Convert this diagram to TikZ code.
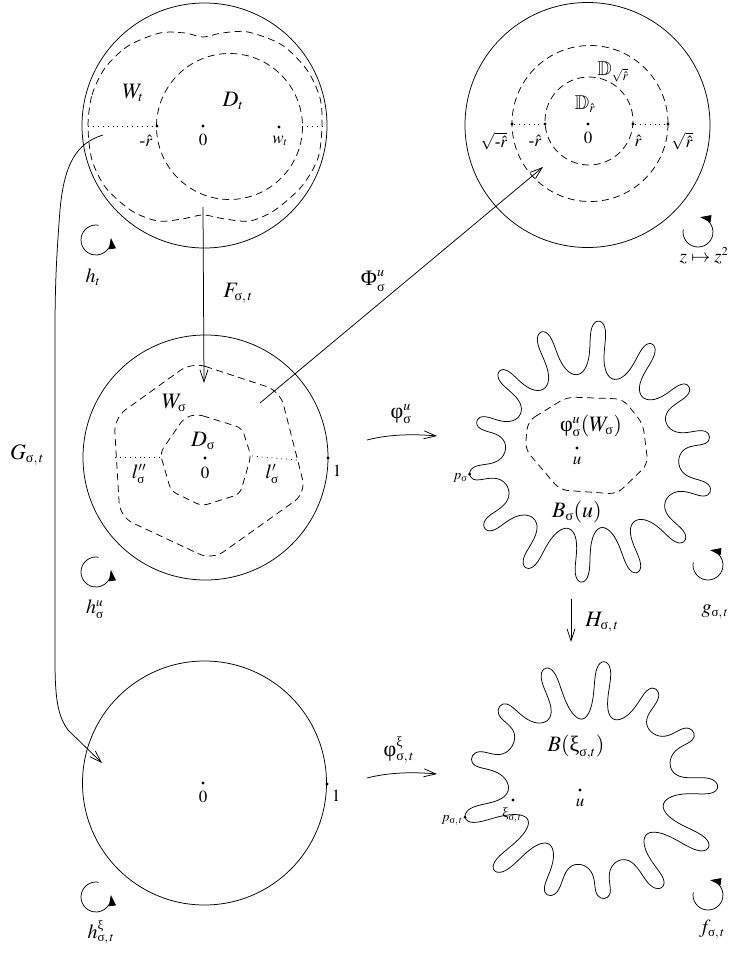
\documentclass[tikz,border=0pt]{standalone}
\usepackage{amsmath,amssymb}
\usepackage{mathptmx}
\usepackage{fontspec}
\setmainfont{Liberation Serif}
\usetikzlibrary{arrows.meta,calc}
\DeclareMathSizes{22}{22}{14}{11}
\DeclareMathSizes{21}{21}{13}{10}
\DeclareMathSizes{20}{20}{13}{10}
\DeclareMathSizes{19}{19}{12}{9}
\DeclareMathSizes{17}{17}{11}{9}
\DeclareMathSizes{14}{14}{10}{8}
\newcommand{\gs}{\text{σ}}
\newcommand{\gxi}{\text{ξ}}
\newcommand{\gphi}{\text{φ}}
\newcommand{\gPhi}{\text{Φ}}
\begin{document}
\begin{tikzpicture}[x=1pt,y=-1pt,line width=0.75pt,
  font=\fontsize{17}{20}\selectfont,
  dsh/.style={dash pattern=on 7pt off 4.5pt},
  dtd/.style={dash pattern=on 0.9pt off 4pt},
  dotn/.style={circle,fill,inner sep=0pt,minimum size=3.2pt},
  lbl/.style={inner sep=0pt},
  biglbl/.style={inner sep=0pt,font=\fontsize{22}{26}\selectfont},
  midlbl/.style={inner sep=0pt,font=\fontsize{20}{24}\selectfont},
  smalllbl/.style={inner sep=0pt,font=\fontsize{14}{16}\selectfont},
  barb/.style={-{Straight Barb[length=12pt,width=8pt]}},
  rot/.style={-{Triangle[length=11pt,width=7pt]}},
  declare function={
    rA(\t)=104+22*(1+0.22*sin(2*\t-90))*sin(14*\t-144)+4*sin(3*\t+20);
    aA(\t)=\t-1.7*sin(2*(14*\t-144))+2.5*cos(14*\t-144);
    rB(\t)=100+23*(1+0.3*sin(3*\t+10))*sin(13*\t+92)+4*sin(2*\t+60);
    aB(\t)=\t-1.8*sin(2*(13*\t+92))+2.5*cos(13*\t+92);
  }]
\useasboundingbox (0,0) rectangle (731,954);

% ---------- centres ----------
\coordinate (c1) at (204.5,125.5);
\coordinate (c2) at (587.5,125);
\coordinate (c3) at (205.5,457.5);
\coordinate (c5) at (204.5,783);

% ---------- top-left disc ----------
\draw (c1) circle[radius=122.5];
\draw[dsh] plot[smooth cycle] coordinates {(88,126) (92,95) (105,68) (128,46) (160,33) (185,33) (203,37) (222,33) (248,32) (282,45) (307,70) (320,98) (322,126) (318,158) (302,186) (275,210) (250,221) (225,219) (203,215) (182,219) (158,221) (132,211) (106,188) (92,160)};
\draw[dsh] (229.5,126.5) circle[radius=73];
\node[dotn] (mr1) at (157,126) {};
\node[dotn] (o1) at (203,126) {};
\node[dotn] (w1) at (279,127) {};
\coordinate (l1a) at (88,126);
\coordinate (l1b) at (302,126);
\coordinate (l1c) at (322,126);
\draw[dtd] (l1a) -- (mr1);
\draw[dtd] (l1b) -- (l1c);
\node[biglbl] (Wt) at (133,93) {$W_t$};
\node[biglbl] (Dt) at (233,101) {$D_t$};
\node[lbl] (tmr) at (146,141) {$\text{-}\hat r$};
\node[lbl] (t0a) at (203,140) {$0$};
\node[lbl] (twt) at (280,141) {$w_t$};

% ---------- top-right disc ----------
\draw (c2) circle[radius=122.5];
\draw[dsh] (590,123.5) circle[radius=78];
\draw[dsh] (589,121) circle[radius=44];
\node[dotn] (q1) at (512,124) {};
\node[dotn] (q2) at (545,124) {};
\node[dotn] (o2) at (588,124) {};
\node[dotn] (q3) at (633,124) {};
\node[dotn] (q4) at (668,124) {};
\draw[dtd] (q1) -- (q2);
\draw[dtd] (q3) -- (q4);
\node[lbl] (s1) at (494,141) {$\sqrt{\text{-}\hat r}$};
\node[lbl] (s2) at (535,141) {$\text{-}\hat r$};
\node[lbl] (s0) at (588,138) {$0$};
\node[lbl] (s3) at (638,141) {$\hat r$};
\node[lbl] (s4) at (682,141) {$\sqrt{\hat r}$};
\node[midlbl] (DD1) at (613,72) {$\mathbb{D}_{\sqrt{\hat r}}$};
\node[midlbl] (DD2) at (585,104) {$\mathbb{D}_{\hat r}$};

% ---------- middle-left disc ----------
\draw (c3) circle[radius=122.5];
\draw[dsh,rounded corners=14pt] (192,362) -- (280,391) -- (306,493) -- (212,560) -- (120,517) -- (114,418) -- cycle;
\draw[dsh,rounded corners=6pt] (197,414) -- (242,428) -- (251,456) -- (240,494) -- (202,506) -- (171,491) -- (160,453) -- (184,418) -- cycle;
\node[dotn] (o3) at (205,458) {};
\node[dotn] (one3) at (328,458) {};
\coordinate (d3a) at (115,457);
\coordinate (d3b) at (160,457);
\coordinate (d3c) at (252,456);
\coordinate (d3d) at (297,460);
\draw[dtd] (d3a) -- (d3b);
\draw[dtd] (d3c) -- (d3d);
\node[biglbl] (Ws) at (174,403) {$W_{\gs}$};
\node[biglbl] (Ds) at (203,441) {$D_{\gs}$};
\node[lbl] (t0c) at (205,473) {$0$};
\node[midlbl] (lpp) at (139,474) {$l''_{\gs}$};
\node[midlbl] (lp) at (272,474) {$l'_{\gs}$};
\node[lbl] (t1c) at (337,471) {$1$};

% ---------- bottom-left disc ----------
\draw (c5) circle[radius=122];
\node[dotn] (o5) at (203,783) {};
\node[dotn] (one5) at (327,784) {};
\node[lbl] (t0e) at (203,797) {$0$};
\node[lbl] (t1e) at (336,796) {$1$};

% ---------- blob A ----------
\draw plot[smooth cycle,variable=\t,domain=0:358.6,samples=252]
  ({590+rA(\t)*cos(aA(\t))},{455+rA(\t)*sin(aA(\t))});
\draw[dsh,rounded corners=8pt] (528,421) -- (567,397) -- (623,399) -- (643,424) -- (648,464) -- (617,494) -- (560,490) -- (525,449) -- cycle;
\node[dotn] (pS) at ({590+rA(171)*cos(aA(171))},{455+rA(171)*sin(aA(171))}) {};
\node[dotn] (uA) at (577,448) {};
\node[lbl] (tuA) at (577,461) {$u$};
\node[smalllbl,anchor=east] (tpS) at ($(pS)+(-2,4)$) {$p_{\gs}$};
\node[biglbl] (phiW) at (591,426) {$\gphi^u_{\gs}(W_{\gs})$};
\node[biglbl] (Bsu) at (577,512) {$B_{\gs}(u)$};

% ---------- blob B ----------
\draw plot[smooth cycle,variable=\t,domain=0:358.6,samples=252]
  ({590+rB(\t)*cos(aB(\t))},{786+rB(\t)*sin(aB(\t))});
\node[dotn] (pSt) at ({590+rB(166)*cos(aB(166))},{786+rB(166)*sin(aB(166))}) {};
\node[dotn] (uB) at (580,790) {};
\node[dotn] (xi) at (513,800) {};
\node[lbl] (tuB) at (580,803) {$u$};
\node[smalllbl,anchor=east] (tpSt) at ($(pSt)+(-2,3)$) {$p_{\gs,\,t}$};
\node[smalllbl] (txi) at (512,815) {$\gxi_{\gs,\,t}$};
\node[biglbl] (Bxi) at (576,747) {$B(\gxi_{\gs,t})$};

% ---------- connectors ----------
\coordinate (F0) at (203,207);
\coordinate (F1) at (204,383);
\draw[barb] (F0) -- (F1);
\node[biglbl] (tF) at (238,293) {$F_{\gs,\,t}$};

\coordinate (P0) at (260,403);
\coordinate (P1) at (543,167);
\draw[barb] (P0) -- (P1);
\node[biglbl] (tP) at (373,281) {$\gPhi^u_{\gs}$};

\coordinate (G0) at (103,135);
\coordinate (G1) at (102,763);
\draw[barb] (G0) .. controls (76,143) and (64,165) .. (60,210)
  .. controls (57,250) and (55,280) .. (55,330) -- (55,660)
  .. controls (55,700) and (58,716) .. (68,730) -- (G1);
\node[biglbl] (tG) at (27,455) {$G_{\gs,\,t}$};

\coordinate (f0) at (367,440);
\coordinate (f1) at (437,436);
\draw[barb] (f0) .. controls (390,434) and (415,434) .. (f1);
\node[biglbl] (tf) at (401,414) {$\gphi^u_{\gs}$};

\coordinate (g0) at (367,778);
\coordinate (g1) at (437,774);
\draw[barb] (g0) .. controls (390,772) and (415,772) .. (g1);
\node[biglbl] (tg) at (399,750) {$\gphi^{\gxi}_{\gs,\,t}$};

\coordinate (H0) at (571,599);
\coordinate (H1) at (571,642);
\draw[barb] (H0) -- (H1);
\node[biglbl] (tH) at (602,622) {$H_{\gs,\,t}$};

% ---------- rotation arrows ----------
\coordinate (r1) at (96,240);
\coordinate (r2) at (96,572);
\coordinate (r3) at (96,897);
\coordinate (r4) at (698,232);
\coordinate (r5) at (708,565);
\coordinate (r6) at (708,895);
\foreach \c in {r1,r2,r3}
  \draw[rot] (\c) ++(-80:15) arc[start angle=-80,end angle=-368,radius=15];
\foreach \c in {r4,r5,r6}
  \draw[rot] (\c) ++(-170:15) arc[start angle=-170,end angle=-442,radius=15];
\node[midlbl] (tr1) at (93,277) {$h_t$};
\node[midlbl] (tr2) at (95,609) {$h^u_{\gs}$};
\node[midlbl] (tr3) at (101,932) {$h^{\gxi}_{\gs,\,t}$};
\node[lbl,font=\fontsize{19}{22}\selectfont] (tr4) at (704,256) {$z\mapsto z^2$};
\node[midlbl] (tr5) at (715,612) {$g_{\gs,\,t}$};
\node[midlbl] (tr6) at (712,930) {$f_{\gs,\,t}$};
\end{tikzpicture}
\end{document}
